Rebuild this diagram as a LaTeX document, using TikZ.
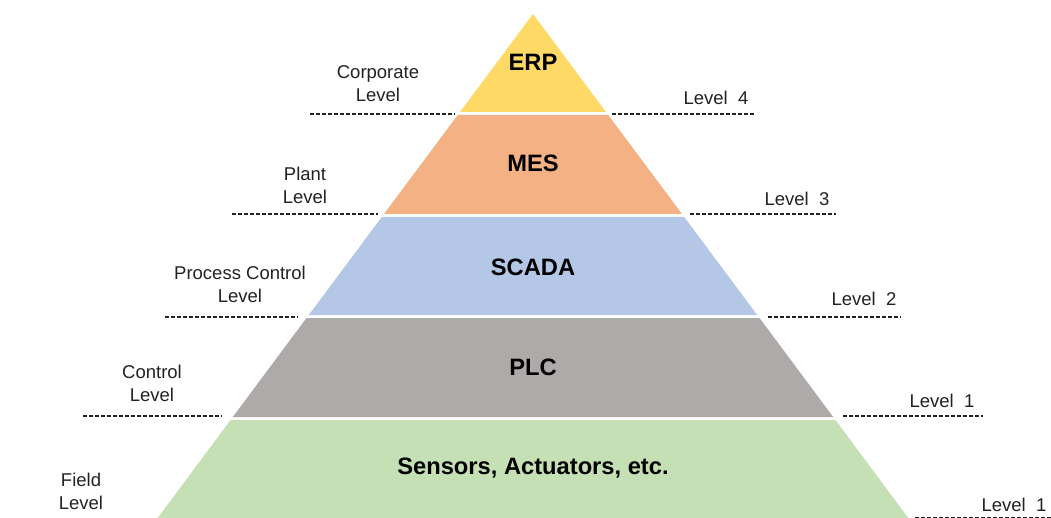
\documentclass[tikz,border=0pt]{standalone}
\usepackage{fontspec}
\setmainfont{Liberation Sans}
\definecolor{erpc}{HTML}{FFD966}
\definecolor{mesc}{HTML}{F4B183}
\definecolor{scadac}{HTML}{B4C7E7}
\definecolor{plcc}{HTML}{AEAAAA}
\definecolor{fieldc}{HTML}{C5E0B4}
\definecolor{txt}{HTML}{222222}
\begin{document}
\begin{tikzpicture}[x=1pt,y=-1pt,
  tiertext/.style={font=\fontsize{23.7}{26}\selectfont\bfseries, text=black, inner sep=0pt},
  lvltext/.style={font=\fontsize{18.5}{23}\selectfont, text=txt, align=center, inner sep=0pt},
  dashline/.style={draw=txt, line width=1.1pt, dash pattern=on 4pt off 2pt}]
\useasboundingbox (0,0) rectangle (1051,518);
% tiers
\fill[erpc] (533,14) -- (606,112) -- (460,112) -- cycle;
\fill[mesc] (457.8,115) -- (608.2,115) -- (682,214) -- (384,214) -- cycle;
\fill[scadac] (381.8,217) -- (684.2,217) -- (757.2,315) -- (308.8,315) -- cycle;
\fill[plcc] (306.5,318) -- (759.5,318) -- (833.2,417) -- (232.8,417) -- cycle;
\fill[fieldc] (230.5,420) -- (835.5,420) -- (909,519) -- (157,519) -- cycle;
% tier labels
\node[tiertext] (erp) at (533,62) {ERP};
\node[tiertext] (mes) at (533,163) {MES};
\node[tiertext] (scada) at (533,267) {SCADA};
\node[tiertext] (plc) at (533,367) {PLC};
\node[tiertext] (field) at (533,468) {Sensors, Actuators, etc.};
% dashed lines
\draw[dashline] (310,114) -- (455,114);
\draw[dashline] (612,114) -- (755,114);
\draw[dashline] (232,214) -- (378,214);
\draw[dashline] (690,214) -- (836,214);
\draw[dashline] (165,317) -- (298,317);
\draw[dashline] (768,317) -- (901,317);
\draw[dashline] (83,416) -- (222,416);
\draw[dashline] (843,416) -- (983,416);
\draw[dashline] (915,518) -- (1051,518);
% left labels
\node[lvltext] (corp) at (378,84) {Corporate\\Level};
\node[lvltext] (plant) at (305,185) {Plant\\Level};
\node[lvltext] (proc) at (240,284) {Process Control\\Level};
\node[lvltext] (ctrl) at (152,383) {Control\\Level};
\node[lvltext] (fld) at (81,491) {Field\\Level};
% right labels
\node[lvltext] (l4) at (716,98) {Level\ \ 4};
\node[lvltext] (l3) at (797,199) {Level\ \ 3};
\node[lvltext] (l2) at (864,299) {Level\ \ 2};
\node[lvltext] (l1) at (942,401) {Level\ \ 1};
\node[lvltext] (l0) at (1014,505) {Level\ \ 1};
\end{tikzpicture}
\end{document}
